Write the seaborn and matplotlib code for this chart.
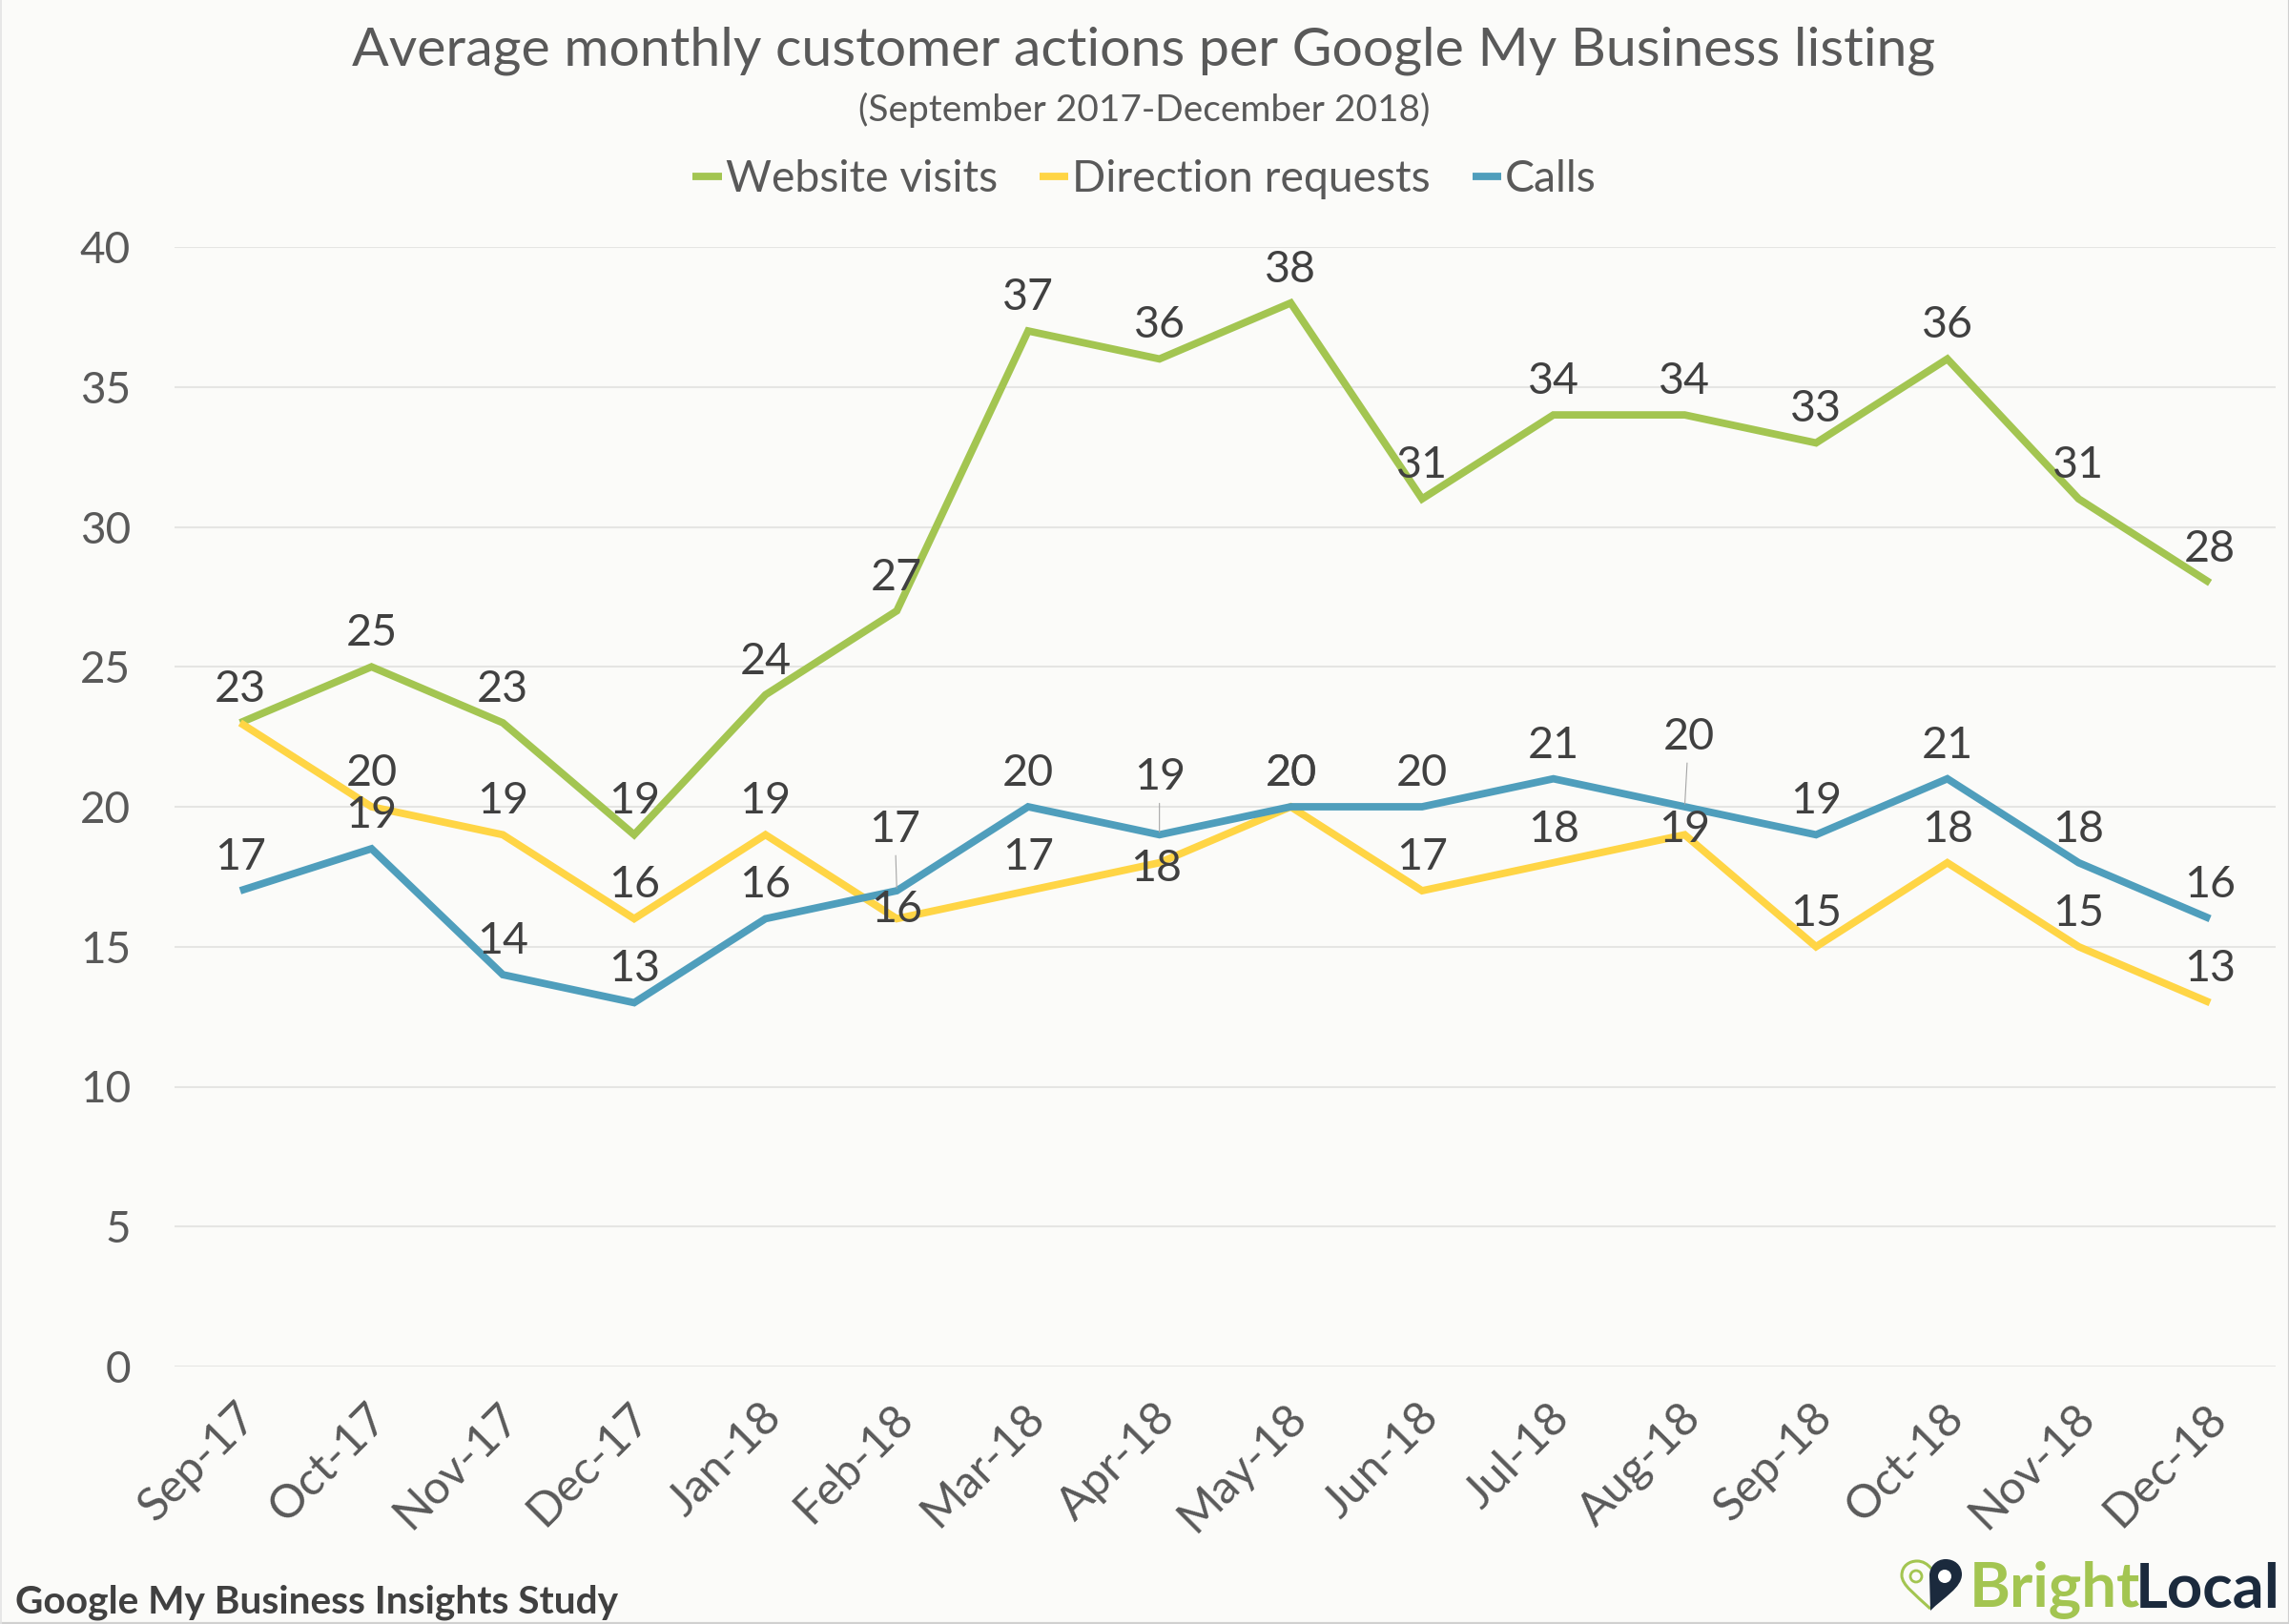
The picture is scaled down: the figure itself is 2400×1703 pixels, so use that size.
import numpy as np
import pandas as pd
import matplotlib.pyplot as plt
import matplotlib.transforms as mtrans
import seaborn as sns
from matplotlib.patches import PathPatch, Circle
from matplotlib.path import Path

months = ['Sep-17', 'Oct-17', 'Nov-17', 'Dec-17', 'Jan-18', 'Feb-18', 'Mar-18', 'Apr-18',
          'May-18', 'Jun-18', 'Jul-18', 'Aug-18', 'Sep-18', 'Oct-18', 'Nov-18', 'Dec-18']
website = [23, 25, 23, 19, 24, 27, 37, 36, 38, 31, 34, 34, 33, 36, 31, 28]
directions = [23, 20, 19, 16, 19, 16, 17, 18, 20, 17, 18, 19, 15, 18, 15, 13]
calls = [17, 18.5, 14, 13, 16, 17, 20, 19, 20, 20, 21, 20, 19, 21, 18, 16]
series_names = ['Website visits', 'Direction requests', 'Calls']
y_ticks = [0, 5, 10, 15, 20, 25, 30, 35, 40]

GREEN = '#A3C551'
YELLOW = '#FFD545'
BLUE = '#4F9EBC'
NAVY = '#1B2A3D'
BG = '#FBFBF9'
W, H, DPI = 2400, 1703, 200

sns.set_theme(style='white')
plt.rcParams['font.family'] = ['Lato', 'DejaVu Sans']

df = pd.DataFrame({'month': months * 3,
                   'series': np.repeat(series_names, len(months)),
                   'value': website + directions + calls})

fig = plt.figure(figsize=(W / DPI, H / DPI), dpi=DPI, facecolor=BG)
ax = fig.add_axes([183 / W, 1 - 1433 / H, (2386 - 183) / W, (1433 - 259) / H], facecolor=BG)

sns.lineplot(data=df, x='month', y='value', hue='series', hue_order=series_names,
             palette=[GREEN, YELLOW, BLUE], sort=False, linewidth=2.8, ax=ax, zorder=3,
             solid_capstyle='butt', solid_joinstyle='miter')

ax.set_xlim(-0.5, len(months) - 0.5)
ax.set_ylim(0, 40)
ax.set_yticks(y_ticks)
ax.set_xlabel('')
ax.set_ylabel('')
ax.grid(axis='y', color='#E5E5E3', linewidth=0.75)
ax.set_axisbelow(True)
sns.despine(ax=ax, left=True, bottom=True, right=True, top=True)
ax.tick_params(axis='y', length=0, pad=16.5, labelsize=16.5, labelcolor='#595959')
ax.tick_params(axis='x', length=0, pad=11, labelsize=17.5, labelcolor='#595959')
plt.setp(ax.get_xticklabels(), rotation=45, ha='right', rotation_mode='anchor')
shift = mtrans.ScaledTranslation(-6 / DPI, 0, fig.dpi_scale_trans)
for lab in ax.get_xticklabels():
    lab.set_transform(lab.get_transform() + shift)

# data labels, default is centred above the point. offsets below are in image pixels
px = 72 / DPI
default_up = 35
nudges = {(1, 5): (0, 9), (1, 7): (-4, -6), (1, 11): (0, 5)}
leaders = {(2, 5): (-2, 64), (2, 7): (0, 60), (2, 11): (4, 73)}

for s, vals in enumerate([website, directions, calls]):
    for i, v in enumerate(vals):
        if s == 1 and i == 0:
            continue  # same spot as the website label
        dx, dy = nudges.get((s, i), (0, default_up))
        arrow = None
        if (s, i) in leaders:
            dx, dy = leaders[(s, i)]
            arrow = dict(arrowstyle='-', color='#A6A6A6', linewidth=0.4, shrinkA=0, shrinkB=1)
        ax.annotate(f'{v:.0f}' if v != 18.5 else '19', (i, v), xytext=(dx * px, dy * px),
                    textcoords='offset points', ha='center', va='center',
                    fontsize=16.8, color='#404040', zorder=5, arrowprops=arrow)

handles, labels = ax.get_legend_handles_labels()
leg = fig.legend(handles, labels, loc='center', bbox_to_anchor=(1200 / W, 1 - 188 / H), ncol=3,
                 frameon=False, fontsize=16.7, labelcolor='#595959', handlelength=0.66,
                 handletextpad=0.08, columnspacing=0.95, borderpad=0)
ax.get_legend().remove()

fig.text(1199 / W, 1 - 53 / H, 'Average monthly customer actions per Google My Business listing',
         ha='center', va='center', fontsize=20.6, color='#595959')
fig.text(1200 / W, 1 - 115 / H, '(September 2017-December 2018)',
         ha='center', va='center', fontsize=14, color='#595959')
fig.text(16 / W, 1 - 1680 / H, 'Google My Business Insights Study',
         ha='left', va='center', fontsize=14.65, fontweight='bold', color='#404040')

# logo, overlay in image pixel coordinates
logo = fig.add_axes([0, 0, 1, 1], facecolor='none')
logo.set_xlim(0, W)
logo.set_ylim(H, 0)
logo.axis('off')
logo.text(2244, 1685, 'Bright', ha='right', va='baseline', fontsize=23.5, fontweight='bold', color=GREEN)
logo.text(2391, 1685, 'Local', ha='right', va='baseline', fontsize=23.5, fontweight='bold', color=NAVY)

C = Path.CURVE4
left = Path([(2024, 1687), (2008, 1672), (1994, 1662), (1994, 1652),
             (1994, 1642), (2002, 1637), (2010, 1637), (2016, 1637), (2021, 1640), (2025, 1645)],
            [Path.MOVETO, C, C, C, C, C, C, C, C, C])
logo.add_patch(PathPatch(left, facecolor='none', edgecolor=GREEN, linewidth=1.1))
right = Path([(2024, 1689), (2038, 1675), (2057, 1665), (2057, 1651),
              (2057, 1641), (2049, 1635), (2040, 1635), (2030, 1635), (2023, 1643), (2023, 1652),
              (2024, 1689)],
             [Path.MOVETO, C, C, C, C, C, C, C, C, C, Path.LINETO])
logo.add_patch(PathPatch(right, facecolor=NAVY, edgecolor='none'))
logo.add_patch(Circle((2039, 1653), 7, facecolor='white', edgecolor='none'))
logo.add_patch(Circle((2009, 1653), 6, facecolor='none', edgecolor=GREEN, linewidth=1.0))

# thin frame round the picture
logo.plot([0, W, W], [H - 1, H - 1, 0], color='#D0D0D0', linewidth=0.8, clip_on=False)
logo.plot([1, 1], [0, H], color='#E4E4E4', linewidth=0.6, clip_on=False)

fig.savefig('out.png', dpi=DPI, facecolor=BG)
